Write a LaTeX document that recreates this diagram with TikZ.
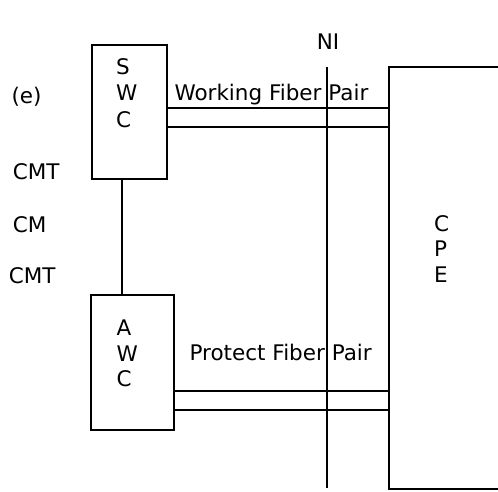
\documentclass[tikz,border=0pt]{standalone}
\usepackage{fontspec}
\setmainfont{DejaVu Sans}
\begin{document}
\begin{tikzpicture}[x=1pt,y=-1pt,
  lbl/.style={inner sep=0pt, outer sep=0pt, anchor=base west, font=\fontsize{21.5}{26}\selectfont},
  boxshape/.style={rectangle, draw, line width=2pt, inner sep=0pt, outer sep=0pt},
  wire/.style={line width=2pt}]
\useasboundingbox (0,0) rectangle (498,492);
% boxes
\node[boxshape, minimum width=75pt, minimum height=134pt] (swc) at (129.5,112) {};
\node[boxshape, minimum width=83pt, minimum height=135pt] (awc) at (132.5,362.5) {};
\node[rectangle, inner sep=0pt, outer sep=0pt, minimum width=110pt, minimum height=422pt] (cpe) at (444,278) {};
\draw[wire] (cpe.north east) -- (cpe.north west) -- (cpe.south west) -- (cpe.south east);
% NI line
\node[lbl, anchor=base] (ni) at (328,50) {NI};
\coordinate (nitop) at (327,67);
\coordinate (nibot) at (327,488);
\draw[wire] (nitop) -- (nibot);
% link between SWC and AWC
\coordinate (link) at (122,0);
\draw[wire] (swc.south -| link) -- (awc.north -| link);
% fiber pairs
\coordinate (w1) at (0,108);
\coordinate (w2) at (0,127);
\coordinate (p1) at (0,391);
\coordinate (p2) at (0,410);
\draw[wire] (swc.east |- w1) -- (cpe.west |- w1);
\draw[wire] (swc.east |- w2) -- (cpe.west |- w2);
\draw[wire] (awc.east |- p1) -- (cpe.west |- p1);
\draw[wire] (awc.east |- p2) -- (cpe.west |- p2);
% labels
\node[lbl] (wfp) at (174.5,100.7) {Working Fiber Pair};
\node[lbl] (pfp) at (189.6,360.7) {Protect Fiber Pair};
\node[lbl] (e) at (11.6,103.3) {(e)};
\node[lbl] (cmt1) at (12.8,179) {CMT};
\node[lbl] (cm) at (12.8,232) {CM};
\node[lbl] (cmt2) at (8.8,283) {CMT};
% SWC letters
\node[lbl] (s1) at (116,75) {S};
\node[lbl] (s2) at (116,101) {W};
\node[lbl] (s3) at (116,127.3) {C};
% AWC letters
\node[lbl] (a1) at (116.5,335) {A};
\node[lbl] (a2) at (116.5,361) {W};
\node[lbl] (a3) at (116.5,386.7) {C};
% CPE letters
\node[lbl] (c1) at (434,231) {C};
\node[lbl] (c2) at (434,256.5) {P};
\node[lbl] (c3) at (434,282) {E};
\end{tikzpicture}
\end{document}
